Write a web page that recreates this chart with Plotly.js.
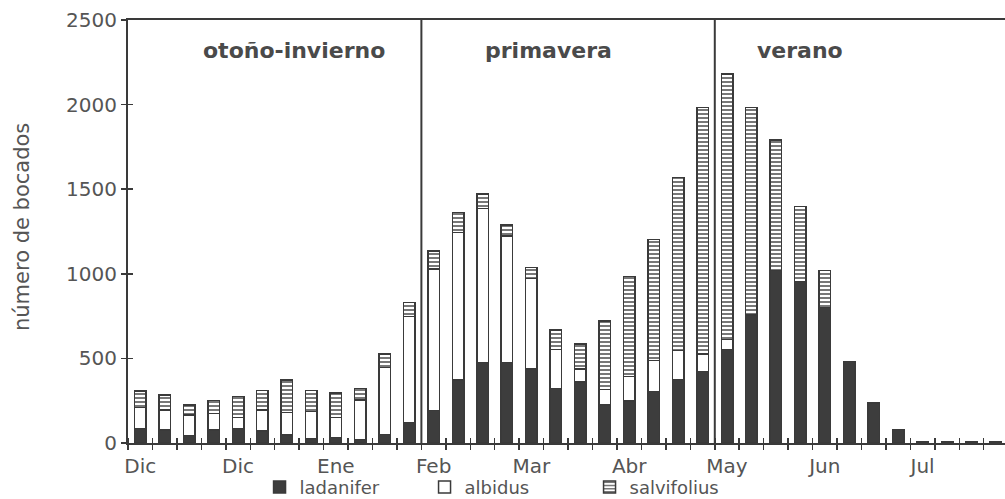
<!DOCTYPE html>
<html>
<head>
<meta charset="utf-8">
<script src="https://cdn.plot.ly/plotly-3.0.1.min.js"></script>
<style>html,body{margin:0;padding:0;background:#fff;}#chart{width:1005px;height:499px;}</style>
</head>
<body>
<div id="chart"></div>
<script>
// weekly samples (index of each bar along the x axis)
const weeks = [0,1,2,3,4,5,6,7,8,9,10,11,12,13,14,15,16,17,18,19,20,21,22,23,24,25,26,27,28,29,30,31,32,33,34,35];
const ladanifer = [87,77,43,77,87,71,47,28,34,22,51,120,192,372,475,475,437,323,362,225,248,303,376,422,554,757,1019,955,800,481,235,79,10,10,10,10];
const albidus = [122,118,123,98,63,124,132,157,118,232,396,627,835,871,912,748,534,231,74,92,144,184,170,104,59,0,0,0,0,0,0,0,0,0,0,0];
const salvifolius = [98,89,59,75,124,114,193,124,145,69,79,84,109,118,85,65,67,114,150,404,591,717,1024,1456,1568,1225,772,442,219,0,0,0,0,0,0,0];
const monthTickPos = [0,4,8,12,16,20,24,28,32];
const monthLabels = ['Dic','Dic','Ene','Feb','Mar','Abr','May','Jun','Jul'];
const yTicks = [0,500,1000,1500,2000,2500];
const seasonBreaks = [11.5, 23.5];
const seasonNames = ['otoño-invierno','primavera','verano'];
const seasonLabelX = [6.3, 16.7, 27.0];

const ink = '#3a3a3a';
const txt = '#555555';
const fontFam = 'DejaVu Sans, Verdana, sans-serif';
const xRange = [-0.5, 35.37];
const yRange = [0, 2500];

const traces = [
  {type:'bar', name:'ladanifer', x:weeks, y:ladanifer,
   marker:{color:'#3d3d3d', line:{color:ink, width:1.5}}, hoverinfo:'skip'},
  {type:'bar', name:'albidus', x:weeks, y:albidus,
   marker:{color:'#ffffff', line:{color:ink, width:1.5}}, hoverinfo:'skip'},
  {type:'bar', name:'salvifolius', x:weeks, y:salvifolius,
   marker:{color:'#ffffff', line:{color:ink, width:1.5},
           pattern:{shape:'-', fgcolor:'#555555', bgcolor:'#ffffff', size:4, solidity:0.4}}, hoverinfo:'skip'},
  // empty helper trace so the overlay axes (inner half of the crossing ticks) get drawn
  {type:'scatter', mode:'markers', x:[null], y:[null], xaxis:'x2', yaxis:'y2', showlegend:false, hoverinfo:'skip'}
];

const shapes = seasonBreaks.map(b => ({type:'line', xref:'x', yref:'paper', x0:b, x1:b, y0:0, y1:1,
  line:{color:ink, width:2}}));

const annotations = seasonNames.map((n,i) => ({xref:'x', yref:'y', x:seasonLabelX[i], y:2320,
  text:'<b>'+n+'</b>', showarrow:false, font:{family:fontFam, size:22, color:'#4a4a4a'}}));
annotations.push({xref:'paper', yref:'paper', x:-0.12, xanchor:'center', y:0.51, yanchor:'middle', textangle:-90, showarrow:false,
  text:'número de bocados', font:{family:fontFam, size:21, color:txt}});

const layout = {
  width:1005, height:499,
  margin:{l:128, r:0, t:20, b:56, autoexpand:false},
  paper_bgcolor:'#ffffff', plot_bgcolor:'#ffffff',
  barmode:'stack', bargap:0.53,
  showlegend:true,
  legend:{orientation:'h', x:0.15, xanchor:'left', y:-0.105, yanchor:'middle', bgcolor:'rgba(0,0,0,0)',
    font:{family:fontFam, size:18, color:txt}, entrywidth:120, entrywidthmode:'pixels',
    traceorder:'normal', itemclick:false},
  xaxis:{range:xRange, showgrid:false, zeroline:false,
    showline:true, linecolor:ink, linewidth:2, mirror:true,
    tickmode:'array', tickvals:monthTickPos, ticktext:monthLabels, ticks:'', ticklabelstandoff:4,
    tickfont:{family:fontFam, size:20, color:txt},
    minor:{tickmode:'linear', tick0:-0.5, dtick:1, ticks:'outside', ticklen:5, tickwidth:1.5, tickcolor:ink, showgrid:false}},
  xaxis2:{overlaying:'x', anchor:'y2', side:'bottom', range:xRange, showgrid:false, zeroline:false,
    showline:false, showticklabels:false, tickmode:'array', tickvals:monthTickPos, ticks:'',
    minor:{tickmode:'linear', tick0:-0.5, dtick:1, ticks:'inside', ticklen:5, tickwidth:1.5, tickcolor:ink, showgrid:false}},
  yaxis:{range:yRange, showgrid:false, zeroline:false,
    showline:true, linecolor:ink, linewidth:2,
    tickmode:'array', tickvals:yTicks, ticks:'outside', ticklen:5, tickwidth:1.5, tickcolor:ink,
    tickfont:{family:fontFam, size:20, color:txt}},
  yaxis2:{overlaying:'y', anchor:'x2', side:'left', range:yRange, showgrid:false, zeroline:false,
    showline:false, showticklabels:false, tickmode:'array', tickvals:yTicks.slice(0,5), ticks:'inside', ticklen:5, tickwidth:1.5, tickcolor:ink},
  shapes:shapes,
  annotations:annotations
};

Plotly.newPlot('chart', traces, layout, {staticPlot:true, displayModeBar:false});
</script>
</body>
</html>
